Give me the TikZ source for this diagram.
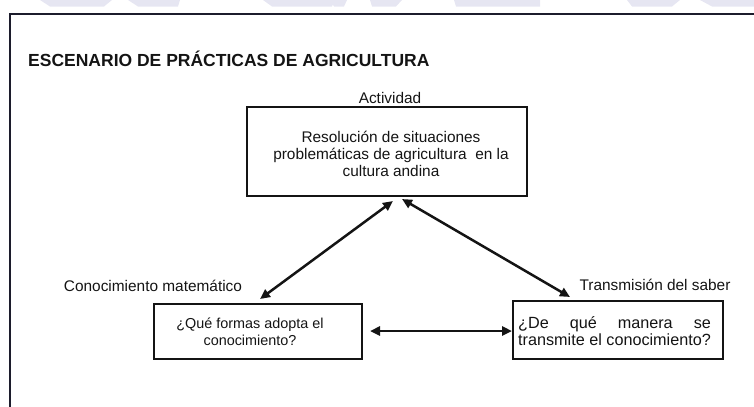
\documentclass[tikz,border=0pt]{standalone}
\usepackage{fontspec}
\setmainfont{Liberation Sans}
\usetikzlibrary{arrows.meta}
\newlength\rowlen
\definecolor{wm}{RGB}{230,230,242}
\definecolor{frame}{RGB}{28,28,44}
\definecolor{ink}{RGB}{20,20,20}
\tikzset{
  boxnode/.style={draw=ink, line width=2bp, inner sep=0pt},
  txt/.style={inner sep=0pt, text=ink, font=\fontsize{15.4bp}{16.7bp}\selectfont},
  ttl/.style={inner sep=0pt, text=ink, font=\fontsize{17.5bp}{20bp}\selectfont\bfseries},
  arr/.style={draw=ink, line width=2.5bp, {Triangle[length=10bp,width=9bp]}-{Triangle[length=10bp,width=9bp]}}
}
\begin{document}
\begin{tikzpicture}[x=1bp,y=-1bp]
\useasboundingbox (0,0) rectangle (754,406);
% watermark remnants
\fill[wm] (40,0) -- (112,0) -- (104,6.5) -- (50,6.5) -- cycle;
\fill[wm] (128,0) -- (180,0) -- (178,6.5) -- (138,6.5) -- cycle;
\fill[wm] (263,0) -- (335,0) -- (332,6.5) -- (272,6.5) -- cycle;
\fill[wm] (330,0) -- (347,0) -- (344,6.5) -- (334,6.5) -- cycle;
\fill[wm] (370,0) -- (402,0) -- (396,6.5) -- (372,6.5) -- cycle;
\fill[wm] (454,0) -- (540,0) -- (540,6.5) -- (456,6.5) -- cycle;
\fill[wm] (627,0) -- (680,0) -- (672,6.5) -- (632,6.5) -- cycle;
\fill[wm] (700,0) -- (754,0) -- (754,6.5) -- (712,6.5) -- cycle;
% frame
\draw[frame, line width=2bp] (9.5,410) -- (9.5,14.3) -- (760,14.3);
% title and labels
\node[ttl, anchor=base west] (title) at (28,66) {ESCENARIO DE PRÁCTICAS DE AGRICULTURA};
\node[txt, anchor=base] (lact) at (390,103) {Actividad};
\node[txt, anchor=base] (lcon) at (153,291) {Conocimiento matemático};
\node[txt, anchor=base] (ltra) at (655,290) {Transmisión del saber};
% boxes
\node[boxnode, minimum width=280bp, minimum height=89bp] (tbox) at (387,151.5) {};
\node[txt, align=center] (ttext) at (391,154) {Resolución de situaciones\\problemáticas de agricultura\ \ en la\\cultura andina};
\node[boxnode, minimum width=208bp, minimum height=55bp] (lbox) at (258,331.5) {};
\node[txt, align=center, font=\fontsize{14.4bp}{17bp}\selectfont] (ltext) at (250,332) {¿Qué formas adopta el\\conocimiento?};
\node[boxnode, minimum width=210bp, minimum height=58bp] (rbox) at (618,330) {};
\node[txt, align=left, anchor=west, font=\fontsize{16.2bp}{17bp}\selectfont] (rtext) at (518,331) {\settowidth{\rowlen}{transmite el conocimiento?}\makebox[\rowlen][s]{¿De qué manera se}\\transmite el conocimiento?};
% connector ends
\coordinate (a1) at (260,299);
\coordinate (a2) at (393,201);
\coordinate (b1) at (402,199);
\coordinate (b2) at (570,297);
\coordinate (c1) at (370,331);
\coordinate (c2) at (512,331);
\draw[arr] (a1) -- (a2);
\draw[arr] (b1) -- (b2);
\draw[arr] (c1) -- (c2);
\end{tikzpicture}
\end{document}
